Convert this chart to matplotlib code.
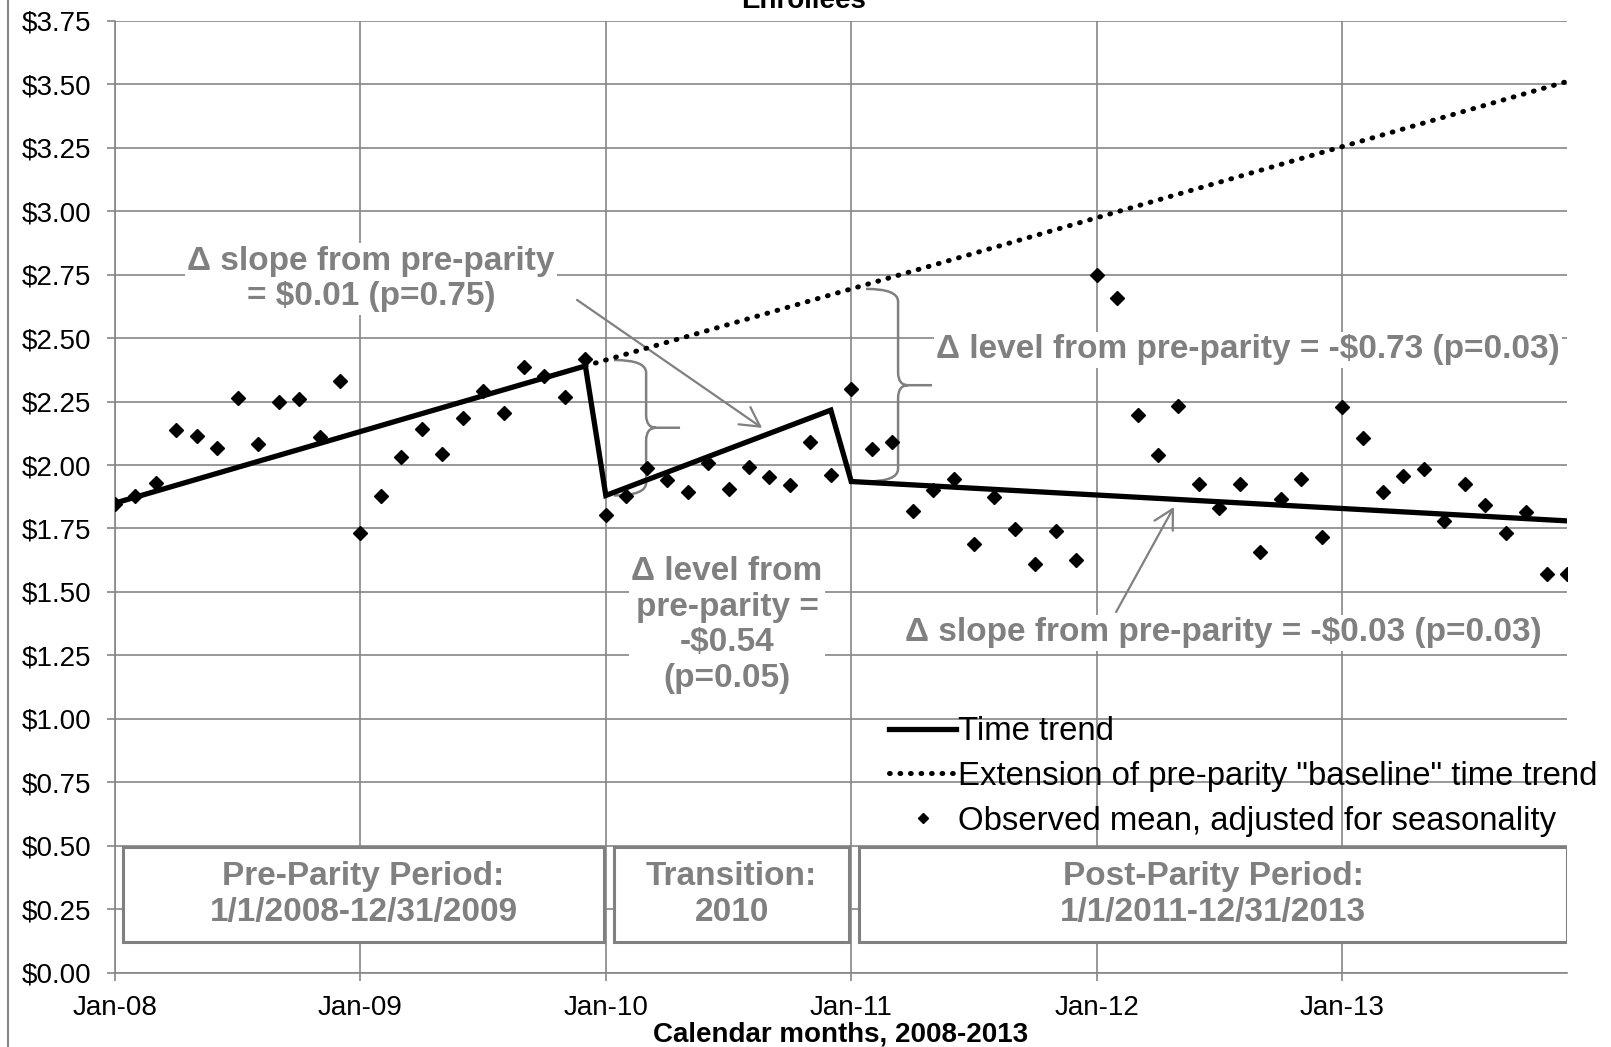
import numpy as np
import matplotlib
matplotlib.use("Agg")
import matplotlib.pyplot as plt
from matplotlib.path import Path
from matplotlib.patches import PathPatch, Rectangle
from matplotlib.lines import Line2D
from matplotlib.ticker import FuncFormatter

plt.rcParams["font.family"] = ["Liberation Sans", "DejaVu Sans"]

# Monthly observed means (Jan-08 .. Dec-13), adjusted for seasonality
months = np.arange(72)
observed = [1.846, 1.878, 1.931, 2.137, 2.116, 2.065, 2.263, 2.084, 2.249, 2.260, 2.110, 2.330,
            1.734, 1.878, 2.031, 2.140, 2.042, 2.185, 2.290, 2.205, 2.385, 2.352, 2.267, 2.418,
            1.804, 1.878, 1.990, 1.941, 1.895, 2.009, 1.905, 1.993, 1.954, 1.922, 2.089, 1.961,
            2.300, 2.063, 2.089, 1.820, 1.900, 1.944, 1.690, 1.875, 1.749, 1.610, 1.739, 1.627,
            2.750, 2.658, 2.195, 2.038, 2.234, 1.924, 1.832, 1.924, 1.657, 1.868, 1.944, 1.716,
            2.229, 2.107, 1.894, 1.957, 1.986, 1.780, 1.924, 1.843, 1.732, 1.814, 1.571, 1.571]

# Segmented time trend (breakpoints) and the extended pre-parity baseline
trend_months = [0, 23, 24, 35, 36, 71]
trend_values = [1.85, 2.39, 1.88, 2.216, 1.935, 1.78]
baseline_months = [23, 71]
baseline_values = [2.39, 3.51]

year_ticks = [0, 12, 24, 36, 48, 60]
year_labels = ["Jan-08", "Jan-09", "Jan-10", "Jan-11", "Jan-12", "Jan-13"]

period_labels = ["Pre-Parity Period:\n1/1/2008-12/31/2009",
                 "Transition:\n2010",
                 "Post-Parity Period:\n1/1/2011-12/31/2013"]
period_spans = [(0.4, 23.9), (24.4, 35.9), (36.4, 71.0)]

GRID = "#868686"
ANNO = "#808080"

fig = plt.figure(figsize=(16.11, 10.47), dpi=100)
ax = fig.add_axes([0.0714, 0.0707, 0.9013, 0.9097])

ax.plot(trend_months, trend_values, color="black", lw=3.8, zorder=5,
        solid_joinstyle="miter", label="Time trend")
ax.plot(baseline_months, baseline_values, color="black", lw=3.6, zorder=5,
        linestyle=(0, (0.15, 1.95)), dash_capstyle="round",
        label='Extension of pre-parity "baseline" time trend')
ax.plot(months, observed, "D", color="black", ms=7.5, ls="none", zorder=6,
        label="Observed mean, adjusted for seasonality")

ax.set_xlim(0, 71)
ax.set_ylim(0, 3.75)
ax.set_yticks(np.arange(0, 3.76, 0.25))
ax.yaxis.set_major_formatter(FuncFormatter(lambda v, p: "$%.2f" % v))
ax.set_xticks(year_ticks)
ax.set_xticklabels(year_labels)
ax.grid(True, color=GRID, lw=1.2)
ax.set_axisbelow(True)
for s in ["top", "right"]:
    ax.spines[s].set_visible(False)
for s in ["left", "bottom"]:
    ax.spines[s].set_color(GRID)
    ax.spines[s].set_linewidth(1.2)
ax.tick_params(direction="out", length=6, width=1.2, color=GRID, labelsize=20)
ax.tick_params(axis="y", pad=11)
ax.tick_params(axis="x", pad=10)
ax.set_xlabel("Calendar months, 2008-2013", fontsize=20, fontweight="bold", labelpad=0)

fig.text(0.4985, 1 - 8.5 / 1047, "Enrollees", fontsize=20, fontweight="bold",
         ha="center", va="baseline")
fig.add_artist(Line2D([8 / 1611, 8 / 1611], [0, 1], transform=fig.transFigure,
                      color=GRID, lw=1.5))

# period boxes
for (x0, x1), lab in zip(period_spans, period_labels):
    ax.add_patch(Rectangle((x0, 0.12), x1 - x0, 0.376, fc="white", ec=ANNO,
                           lw=2.2, zorder=3))
    ax.text((x0 + x1) / 2, 0.309, lab, ha="center", va="center", fontsize=24,
            fontweight="bold", color=ANNO, linespacing=1.22, zorder=4)

# annotations
txt = dict(fontsize=24, fontweight="bold", color=ANNO, ha="center", va="center",
           linespacing=1.2, zorder=4,
           bbox=dict(fc="white", ec="none", pad=2))
ax.text(12.52, 2.732, "\u0394 slope from pre-parity\n= \\$0.01 (p=0.75)", **txt)
ax.text(55.4, 2.453, "\u0394 level from pre-parity = -\\$0.73 (p=0.03)", **txt)
ax.text(29.93, 1.370, "\u0394 level from\npre-parity =\n-\\$0.54\n(p=0.05)", **txt)
ax.text(54.2, 1.339, "\u0394 slope from pre-parity = -\\$0.03 (p=0.03)", **txt)

arrow = dict(arrowstyle="->,head_length=0.55,head_width=0.3", color=ANNO, lw=1.6,
             mutation_scale=25, shrinkA=0, shrinkB=0)
ax.annotate("", xy=(31.64, 2.146), xytext=(22.59, 2.65), arrowprops=arrow, zorder=4)
ax.annotate("", xy=(51.78, 1.835), xytext=(48.95, 1.421), arrowprops=arrow, zorder=4)


def brace(ax, x_left, x_stem, x_tip, y_top, y_bot):
    ym = (y_top + y_bot) / 2
    ry, rx = 0.05, 0.5
    verts = [(x_left, y_top), (x_stem, y_top), (x_stem, y_top - ry),
             (x_stem, ym + ry), (x_stem, ym), (x_stem + rx, ym),
             (x_tip, ym),
             (x_stem + rx, ym), (x_stem, ym), (x_stem, ym - ry),
             (x_stem, y_bot + ry), (x_stem, y_bot), (x_left, y_bot)]
    codes = [Path.MOVETO, Path.CURVE3, Path.CURVE3, Path.LINETO, Path.CURVE3,
             Path.CURVE3, Path.LINETO, Path.MOVETO, Path.CURVE3, Path.CURVE3,
             Path.LINETO, Path.CURVE3, Path.CURVE3]
    ax.add_patch(PathPatch(Path(verts, codes), fc="none", ec=ANNO, lw=1.8, zorder=4))


for m, (xl, xs, xt) in zip([24, 36], [(24.4, 25.97, 27.63), (36.72, 38.29, 39.95)]):
    top = np.interp(m, baseline_months, baseline_values)
    bot = np.interp(m, trend_months, trend_values)
    brace(ax, xl, xs, xt, top, bot)

leg = ax.legend(loc="upper left", bbox_to_anchor=(0.5518, 0.316),
                bbox_transform=fig.transFigure, frameon=False, fontsize=23.7,
                borderpad=0, borderaxespad=0, handlelength=2.05, handletextpad=0.05,
                labelspacing=0.42, markerscale=0.7)

fig.savefig("out.png", dpi=100)
